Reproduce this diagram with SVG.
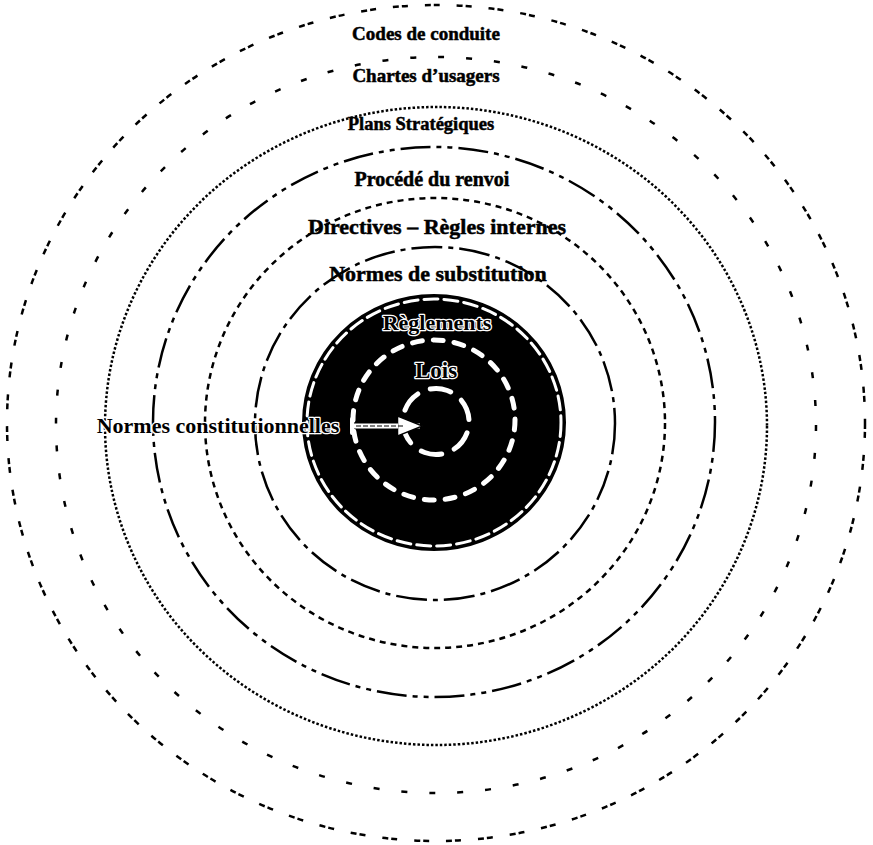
<svg xmlns="http://www.w3.org/2000/svg" width="873" height="845" viewBox="0 0 873 845">
<style>
.ring{fill:none;stroke:#000;}
.lbl{font-family:"Liberation Serif","Times New Roman",serif;font-weight:bold;fill:#000;text-anchor:middle;stroke:#000;stroke-width:0.5;}
.halo{paint-order:stroke;stroke:#fff;stroke-width:2.5;stroke-linejoin:round;}
.wring{fill:none;stroke:#fff;stroke-linecap:round;}
</style>
<defs>
<marker id="ah" viewBox="0 0 10 10" refX="9" refY="5" markerWidth="5" markerHeight="5" orient="auto" markerUnits="strokeWidth">
<path d="M0,1 L10,5 L0,9 Z" fill="#fff" stroke="#000" stroke-width="0.6"/>
</marker>
</defs>
<rect width="873" height="845" fill="#fff"/>

<g id="codes-de-conduite">
<ellipse class="ring" cx="436" cy="423" rx="429" ry="418" stroke-width="2.5" stroke-dasharray="6 3 6 17"/>
<text class="lbl" x="426" y="40" font-size="19">Codes de conduite</text>
</g>
<g id="chartes-usagers">
<ellipse class="ring" cx="436" cy="425" rx="380" ry="368" stroke-width="2.5" stroke-dasharray="6 22"/>
<text class="lbl" x="426" y="82" font-size="19">Chartes d’usagers</text>
</g>
<g id="plans-strategiques">
<ellipse class="ring" cx="436" cy="426" rx="331" ry="319" stroke-width="2.5" stroke-dasharray="2.5 2"/>
<text class="lbl" x="421" y="130" font-size="18.5">Plans Stratégiques</text>
</g>
<g id="procede-renvoi">
<ellipse class="ring" cx="434" cy="422" rx="281" ry="275" stroke-width="2.5" stroke-dasharray="30 6 5 6 5 6"/>
<text class="lbl" x="432" y="186" font-size="20">Procédé du renvoi</text>
</g>
<g id="directives">
<ellipse class="ring" cx="435" cy="423" rx="230" ry="225" stroke-width="2.5" stroke-dasharray="6 5"/>
<text class="lbl" x="437" y="234" font-size="22">Directives – Règles internes</text>
</g>
<g id="normes-substitution">
<ellipse class="ring" cx="435" cy="423.5" rx="180" ry="176.5" stroke-width="2.5" stroke-dasharray="31 6 5 6"/>
<text class="lbl" x="438" y="281" font-size="22">Normes de substitution</text>
</g>
<g id="reglements">
<ellipse cx="434" cy="422.5" rx="131" ry="127.5" fill="#000" stroke="#000" stroke-width="2"/>
<ellipse class="wring" cx="434" cy="422.5" rx="127" ry="123.5" stroke-width="3" stroke-dasharray="14 6"/>
<ellipse class="wring" cx="434" cy="420" rx="81" ry="80" stroke-width="5" stroke-dasharray="10 11"/>
<text class="lbl halo" x="437" y="330" font-size="22">Règlements</text>
</g>
<g id="lois">
<circle class="wring" cx="436" cy="421.5" r="33" stroke-width="5" stroke-dasharray="21 13.5" transform="rotate(-160 436 421.5)"/>
<text class="lbl halo" x="436" y="378" font-size="23">Lois</text>
</g>
<g id="normes-constitutionnelles">
<text class="lbl halo" x="218" y="433" font-size="22">Normes constitutionnelles</text>
</g>
<g id="connectors">
<line x1="352" y1="419" x2="352" y2="433" stroke="#fff" stroke-width="4" stroke-linecap="round"/>
<line x1="354" y1="426" x2="420" y2="426" stroke="#fff" stroke-width="5" marker-end="url(#ah)"/>
<line x1="356" y1="426" x2="405" y2="426" stroke="#000" stroke-width="1" stroke-dasharray="5 2"/>
</g>
</svg>
